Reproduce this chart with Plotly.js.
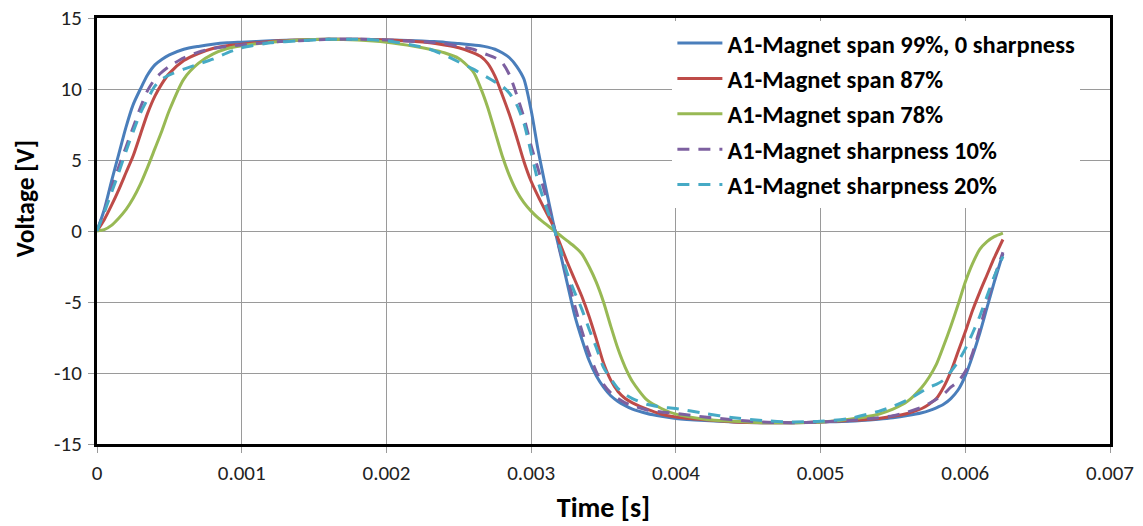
<!DOCTYPE html>
<html>
<head>
<meta charset="utf-8">
<script src="https://cdn.plot.ly/plotly-3.0.1.min.js"></script>
<style>
  html, body { margin: 0; padding: 0; background: #ffffff; }
  #chart { width: 1143px; height: 526px; }
</style>
</head>
<body>
<div id="chart"></div>
<script>
// Time in milliseconds (converted to seconds for plotting)
const timeMs = [0, 0.05, 0.1, 0.15, 0.2, 0.25, 0.3, 0.35, 0.4, 0.45, 0.5, 0.6, 0.7, 0.8, 0.9, 1.0, 1.2, 1.4, 1.6, 1.8,
  2.0, 2.2, 2.3, 2.4, 2.5, 2.6, 2.65, 2.7, 2.75, 2.8, 2.85, 2.9, 2.95, 3.0, 3.05, 3.1, 3.15, 3.2, 3.25, 3.3,
  3.35, 3.4, 3.45, 3.5, 3.55, 3.6, 3.65, 3.7, 3.8, 3.9, 4.0, 4.2, 4.4, 4.6, 4.8, 5.0, 5.2, 5.4, 5.5, 5.6,
  5.7, 5.75, 5.8, 5.85, 5.9, 5.95, 6.0, 6.05, 6.1, 6.15, 6.2, 6.26];

const span99 = [0, 1.5, 3.5, 5.4, 7.3, 8.9, 10.0, 11.0, 11.7, 12.1, 12.4, 12.8, 13.0, 13.15, 13.25, 13.3, 13.4, 13.45, 13.5, 13.5,
  13.45, 13.4, 13.35, 13.3, 13.2, 13.1, 13.05, 12.95, 12.8, 12.55, 12.2, 11.6, 10.7, 8.5, 5.6, 3.1, 0.7, -1.5, -3.7, -5.9,
  -7.6, -9.1, -10.2, -11.0, -11.6, -12.0, -12.3, -12.55, -12.85, -13.05, -13.2, -13.35, -13.45, -13.5, -13.5, -13.45, -13.4, -13.25, -13.15, -13.0,
  -12.8, -12.65, -12.45, -12.2, -11.8, -11.2, -10.2, -8.8, -7.2, -5.4, -3.6, -1.6];

const span87 = [0, 0.8, 1.8, 2.9, 4.1, 5.3, 6.8, 8.3, 9.5, 10.4, 11.1, 12.0, 12.5, 12.85, 13.05, 13.15, 13.35, 13.45, 13.5, 13.5,
  13.45, 13.35, 13.25, 13.1, 12.9, 12.55, 12.3, 11.8, 10.9, 9.6, 8.2, 6.6, 4.9, 3.5, 2.4, 1.4, 0.4, -0.9, -2.2, -3.4,
  -4.6, -6.0, -7.6, -9.3, -10.5, -11.3, -11.8, -12.1, -12.55, -12.9, -13.1, -13.3, -13.45, -13.5, -13.5, -13.45, -13.35, -13.2, -13.05, -12.85,
  -12.5, -12.2, -11.8, -11.0, -9.9, -8.5, -7.1, -5.6, -4.3, -3.1, -1.9, -0.6];

const span78 = [0, 0.1, 0.4, 0.9, 1.5, 2.3, 3.3, 4.5, 5.8, 7.1, 8.5, 10.7, 11.8, 12.45, 12.85, 13.05, 13.3, 13.45, 13.5, 13.45,
  13.3, 13.0, 12.8, 12.55, 12.15, 11.2, 10.1, 8.7, 7.0, 5.3, 3.9, 2.8, 2.0, 1.4, 0.9, 0.5, 0.1, -0.3, -0.7, -1.1,
  -1.6, -2.5, -3.6, -5.0, -6.7, -8.3, -9.6, -10.6, -11.9, -12.5, -12.9, -13.25, -13.4, -13.5, -13.5, -13.45, -13.25, -12.9, -12.55, -12.0,
  -11.0, -10.3, -9.4, -8.1, -6.7, -5.2, -3.6, -2.3, -1.3, -0.75, -0.4, -0.15];

const sharp10 = [0, 1.4, 3.0, 4.5, 5.9, 7.3, 8.7, 9.9, 10.7, 11.2, 11.6, 12.2, 12.6, 12.85, 13.0, 13.1, 13.3, 13.4, 13.5, 13.5,
  13.45, 13.35, 13.3, 13.2, 13.0, 12.8, 12.6, 12.4, 12.2, 11.85, 11.0, 9.6, 8.0, 6.0, 4.3, 2.5, 0.6, -1.4, -3.2, -5.2,
  -7.0, -8.6, -9.9, -10.8, -11.4, -11.8, -12.1, -12.3, -12.6, -12.75, -12.85, -13.1, -13.3, -13.45, -13.5, -13.45, -13.35, -13.15, -13.0, -12.75,
  -12.4, -12.15, -11.85, -11.5, -11.0, -10.6, -9.9, -8.6, -6.9, -5.0, -3.3, -1.5];

const sharp20 = [0, 1.3, 2.7, 4.1, 5.6, 7.0, 8.3, 9.3, 10.2, 10.7, 11.0, 11.4, 11.75, 12.1, 12.55, 12.9, 13.25, 13.4, 13.5, 13.5,
  13.4, 13.05, 12.8, 12.4, 11.9, 11.4, 11.1, 10.8, 10.5, 10.2, 9.7, 8.9, 7.6, 5.5, 3.4, 1.8, 0.4, -1.2, -3.0, -4.3,
  -5.5, -6.9, -8.2, -9.6, -10.4, -11.1, -11.5, -11.8, -12.2, -12.4, -12.5, -12.85, -13.15, -13.35, -13.45, -13.4, -13.2, -12.7, -12.35, -11.9,
  -11.3, -11.0, -10.8, -10.5, -9.9, -9.2, -8.3, -7.2, -6.0, -4.6, -3.2, -1.8];

const seriesNames = ['A1-Magnet span 99%, 0 sharpness', 'A1-Magnet span 87%', 'A1-Magnet span 78%',
  'A1-Magnet sharpness 10%', 'A1-Magnet sharpness 20%'];
const seriesValues = [span99, span87, span78, sharp10, sharp20];
const seriesColors = ['#4A7EBB', '#BE4B48', '#98B954', '#7D60A0', '#46AAC5'];
const seriesDash = ['solid', 'solid', 'solid', '12px,9px', '12px,9px'];

const xTickVals = [0, 0.001, 0.002, 0.003, 0.004, 0.005, 0.006, 0.007];
const xTickText = ['0', '0.001', '0.002', '0.003', '0.004', '0.005', '0.006', '0.007'];
const yTickVals = [-15, -10, -5, 0, 5, 10, 15];
const yTickText = ['-15', '-10', '-5', '0', '5', '10', '15'];

const timeS = timeMs.map(v => v / 1000);

const traces = seriesValues.map((vals, i) => ({
  x: timeS,
  y: vals,
  type: 'scatter',
  mode: 'lines',
  name: seriesNames[i],
  legendgroup: 'g' + i,
  line: { color: seriesColors[i], width: 3, dash: seriesDash[i], shape: 'spline', smoothing: 0.7 },
  hoverinfo: 'skip'
}));

const fontFam = 'Carlito, Lato, "Open Sans", sans-serif';

const layout = {
  width: 1143,
  height: 526,
  paper_bgcolor: '#ffffff',
  plot_bgcolor: '#ffffff',
  margin: { l: 97, r: 33, t: 18, b: 82, pad: 0 },
  showlegend: true,
  legend: {
    x: 0.568, y: 0.994, xanchor: 'left', yanchor: 'top',
    bgcolor: 'rgba(255,255,255,1)',
    borderwidth: 0,
    tracegroupgap: 0.55,
    itemwidth: 45,
    font: { family: fontFam, size: 24.5, color: '#000000', weight: 'bold' }
  },
  xaxis: {
    range: [0, 0.007],
    tickvals: xTickVals,
    ticktext: xTickText,
    showgrid: true,
    gridcolor: '#9a9a9a',
    gridwidth: 1,
    zeroline: false,
    showline: true,
    linecolor: '#000000',
    linewidth: 3,
    mirror: true,
    ticks: 'outside',
    ticklen: 6,
    tickcolor: '#9a9a9a',
    tickwidth: 1,
    ticklabelstandoff: 2,
    tickfont: { family: fontFam, size: 21, color: '#222222' },
    title: { text: 'Time [s]', font: { family: fontFam, size: 28, color: '#000000', weight: 'bold' }, standoff: 13 },
    automargin: false
  },
  yaxis: {
    range: [-15, 15],
    tickvals: yTickVals,
    ticktext: yTickText,
    showgrid: true,
    gridcolor: '#9a9a9a',
    gridwidth: 1,
    zeroline: false,
    showline: true,
    linecolor: '#000000',
    linewidth: 3,
    mirror: true,
    ticks: 'outside',
    ticklen: 6,
    tickcolor: '#9a9a9a',
    tickwidth: 1,
    ticklabelstandoff: 2,
    tickfont: { family: fontFam, size: 21, color: '#222222' },
    automargin: false
  },
  annotations: [{
    text: 'Voltage [V]',
    xref: 'paper', yref: 'paper',
    x: -0.071, y: 0.575,
    xanchor: 'center', yanchor: 'middle',
    textangle: -90,
    showarrow: false,
    font: { family: fontFam, size: 25.5, color: '#000000', weight: 'bold' }
  }]
};

Plotly.newPlot('chart', traces, layout, { staticPlot: true, displayModeBar: false });
</script>
</body>
</html>
